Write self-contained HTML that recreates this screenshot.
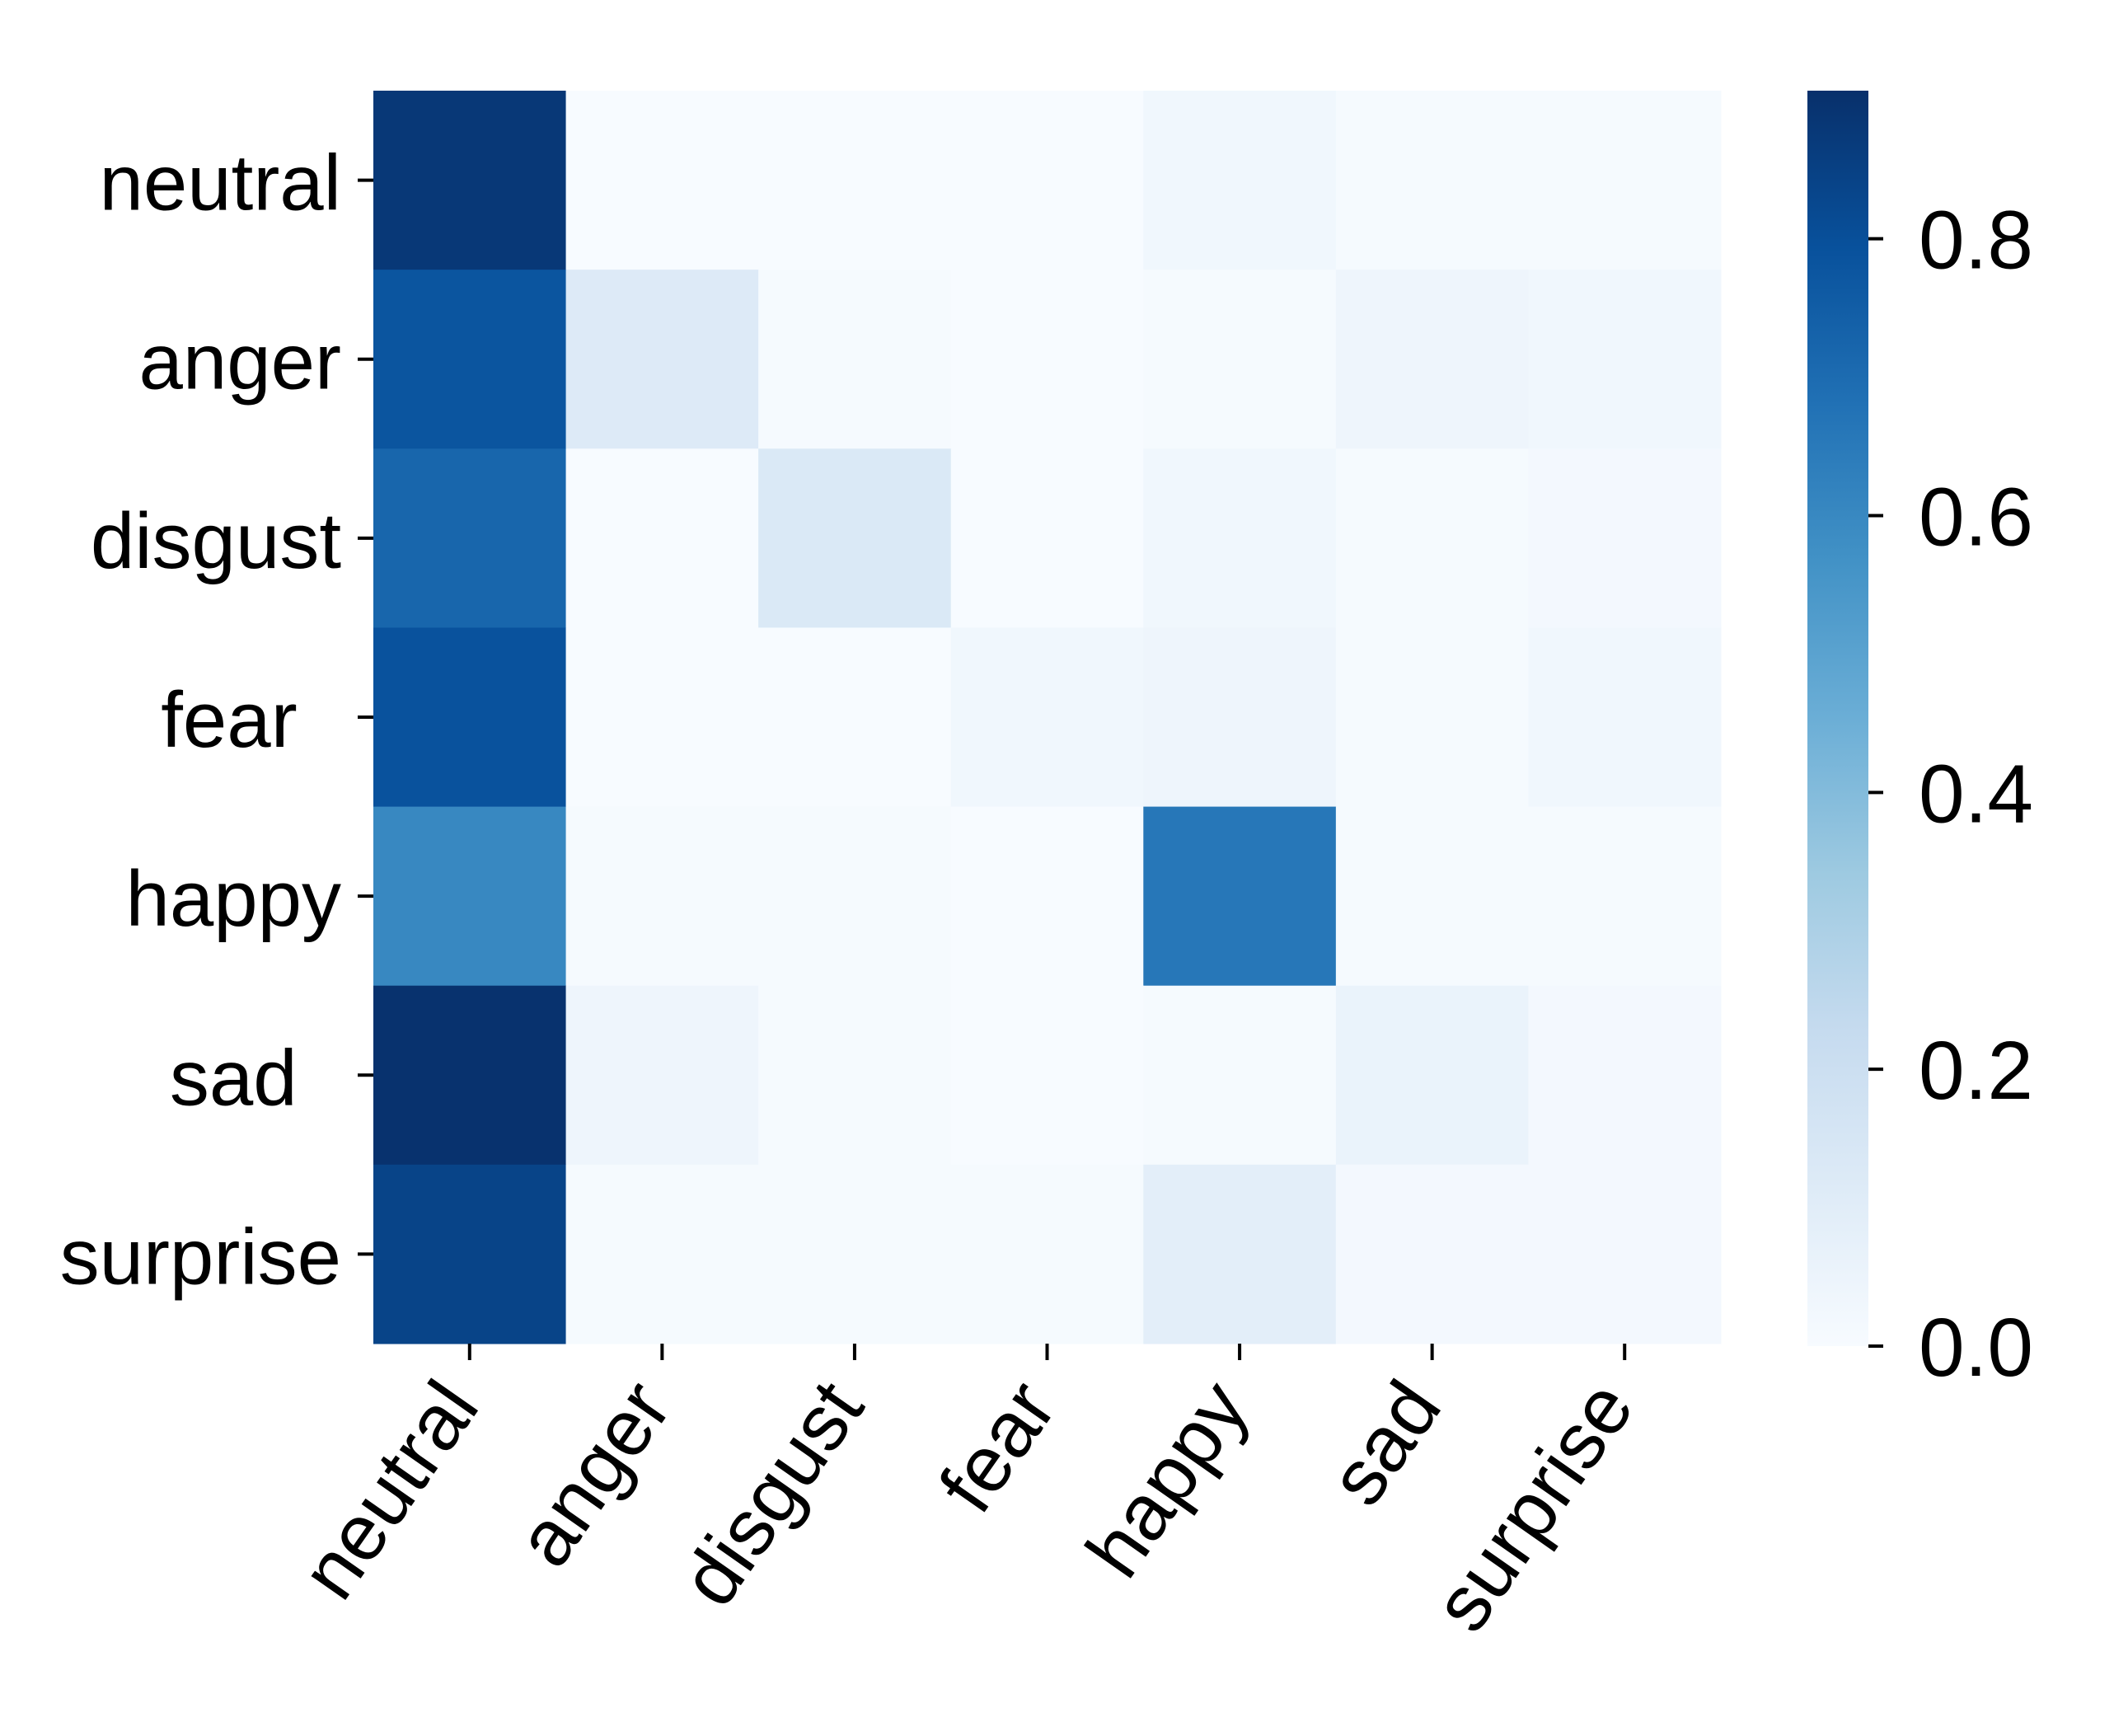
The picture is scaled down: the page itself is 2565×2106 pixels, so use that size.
<!DOCTYPE html>
<html><head><meta charset="utf-8"><style>
html,body{margin:0;padding:0;background:#fff;}
svg{display:block;font-family:"Liberation Sans",sans-serif;}
</style></head><body>
<svg id="chart" width="2565" height="2106" viewBox="0 0 2565 2106" xmlns="http://www.w3.org/2000/svg">
<defs>
<linearGradient id="cbgrad" x1="0" y1="1" x2="0" y2="0">
<stop offset="0" stop-color="#f7fbff"/><stop offset="0.125" stop-color="#deebf7"/><stop offset="0.25" stop-color="#c6dbef"/><stop offset="0.375" stop-color="#9ecae1"/><stop offset="0.5" stop-color="#6baed6"/><stop offset="0.625" stop-color="#4292c6"/><stop offset="0.75" stop-color="#2171b5"/><stop offset="0.875" stop-color="#08519c"/><stop offset="1" stop-color="#08306b"/>
</linearGradient>
</defs>
<g id="cells"></g>
<g id="yaxis"></g>
<g id="xaxis"></g>
<rect x="2193" y="110" width="74" height="1523" fill="url(#cbgrad)"/>
<g id="cbaxis"></g>
</svg>
<script>
const rowLabels = ["neutral","anger","disgust","fear ","happy","sad ","surprise"];
const colLabels = ["neutral","anger","disgust","fear","happy","sad","surprise"];
const rowNeutral  = [0.88,0.00,0.00,0.00,0.03,0.01,0.01];
const rowAnger    = [0.78,0.12,0.01,0.00,0.01,0.04,0.03];
const rowDisgust  = [0.72,0.00,0.13,0.00,0.03,0.01,0.02];
const rowFear     = [0.79,0.00,0.00,0.03,0.04,0.01,0.03];
const rowHappy    = [0.60,0.01,0.01,0.00,0.66,0.01,0.01];
const rowSad      = [0.90,0.04,0.01,0.00,0.01,0.06,0.02];
const rowSurprise = [0.84,0.01,0.01,0.01,0.09,0.02,0.02];
const cbTicks = [0.0,0.2,0.4,0.6,0.8];
const cbTickLabels = ["0.0","0.2","0.4","0.6","0.8"];
const vmin = 0, vmax = 0.907;

const matrix = [rowNeutral,rowAnger,rowDisgust,rowFear,rowHappy,rowSad,rowSurprise];
const NS = "http://www.w3.org/2000/svg";
const L = 453, R = 2088, T = 110, B = 1630;
const cw = (R - L) / colLabels.length, rh = (B - T) / rowLabels.length;
const xPos = i => L + i * cw;
const yPos = j => T + j * rh;
const cbTop = 110, cbBot = 1633;
const cbY = v => cbBot - (v - vmin) / (vmax - vmin) * (cbBot - cbTop);

const stops = ["#f7fbff","#deebf7","#c6dbef","#9ecae1","#6baed6","#4292c6","#2171b5","#08519c","#08306b"].map(h=>[parseInt(h.slice(1,3),16),parseInt(h.slice(3,5),16),parseInt(h.slice(5,7),16)]);
function color(v){
  let t = Math.max(0, Math.min(1, (v - vmin) / (vmax - vmin))) * (stops.length - 1);
  let i = Math.min(stops.length - 2, Math.floor(t)), f = t - i;
  const c = stops[i].map((a,k)=>Math.round(a + (stops[i+1][k]-a)*f));
  return `rgb(${c[0]},${c[1]},${c[2]})`;
}
function mk(tag, attrs, parent){
  const e = document.createElementNS(NS, tag);
  for (const k in attrs) e.setAttribute(k, attrs[k]);
  parent.appendChild(e); return e;
}
const cells = document.getElementById('cells');
matrix.forEach((row, j) => row.forEach((v, i) => {
  const r = mk('rect', {x: xPos(i), y: yPos(j), width: cw + 0.5, height: rh + 0.5, fill: color(v)}, cells);
  
  
}));
const ya = document.getElementById('yaxis');
rowLabels.forEach((lab, j) => {
  const cy = yPos(j) + rh / 2;
  const tk = mk('line', {x1: 434, x2: 453, y1: cy, y2: cy, stroke: '#000', 'stroke-width': 4}, ya);
  
  
  const t = mk('text', {x: 414, y: cy + 36, 'text-anchor': 'end', 'font-size': 96, fill: '#000', 'xml:space': 'preserve', style: 'white-space:pre'}, ya);
  t.textContent = lab.endsWith(' ') ? lab + '\u00a0' : lab;
  
  
});
const xa = document.getElementById('xaxis');
colLabels.forEach((lab, i) => {
  const cx = xPos(i) + cw / 2;
  const tk = mk('line', {x1: cx, x2: cx, y1: 1630, y2: 1650, stroke: '#000', 'stroke-width': 4}, xa);
  
  
  const t = mk('text', {x: 0, y: 0, 'text-anchor': 'end', 'font-size': 96, fill: '#000', transform: `translate(${cx + 14},${1706}) rotate(-55)`}, xa);
  t.textContent = lab;
  
  
});
const ca = document.getElementById('cbaxis');
cbTicks.forEach((v, k) => {
  const y = cbY(v);
  const tk = mk('line', {x1: 2267, x2: 2285, y1: y, y2: y, stroke: '#000', 'stroke-width': 4}, ca);
  
  
  const t = mk('text', {x: 2328, y: y + 36, 'font-size': 100, fill: '#000'}, ca);
  t.textContent = cbTickLabels[k];
  
  
});
</script>
</body></html>
